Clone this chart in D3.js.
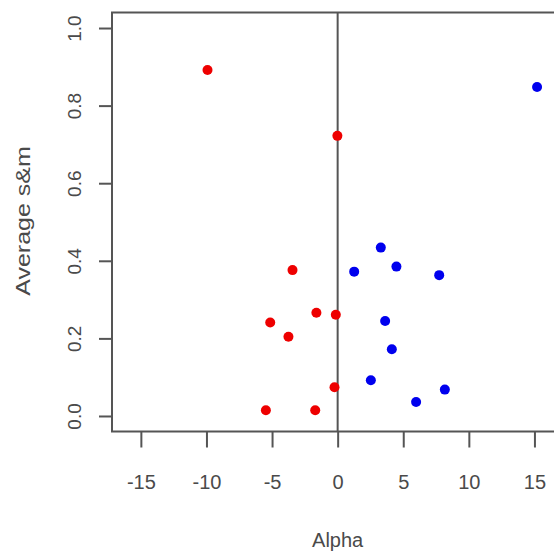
<!DOCTYPE html>
<html>
<head>
<meta charset="utf-8">
<script src="https://cdnjs.cloudflare.com/ajax/libs/d3/7.8.5/d3.min.js"></script>
<style>
  body { margin: 0; background: #fff; }
  svg text { font-family: "Liberation Sans", Arial, sans-serif; fill: #4a4a4a; }
</style>
</head>
<body>
<div id="chart"></div>
<script>
// values
var redAlpha = [-9.92, -0.02, -3.44, -1.62, -0.14, -5.14, -3.75, -0.24, -5.47, -1.71];
var redSM    = [0.892, 0.722, 0.376, 0.266, 0.261, 0.241, 0.204, 0.074, 0.015, 0.015];
var blueAlpha = [15.2, 3.29, 1.26, 4.48, 7.74, 3.62, 4.13, 2.53, 8.17, 5.98];
var blueSM    = [0.848, 0.434, 0.372, 0.385, 0.363, 0.245, 0.172, 0.092, 0.068, 0.036];
var xTicks = [-15, -10, -5, 0, 5, 10, 15];
var yTicks = [0, 0.2, 0.4, 0.6, 0.8, 1.0];

var width = 554, height = 555;

var svg = d3.select('#chart')
  .append('svg')
  .attr('width', width)
  .attr('height', height);

var x = d3.scaleLinear().domain([-17.2, 17.2]).range([112, 563.3]);
var y = d3.scaleLinear().domain([-0.04, 1.04]).range([431.5, 12.5]);

// vertical line at alpha = 0
svg.append('line')
  .attr('x1', x(0)).attr('x2', x(0))
  .attr('y1', y.range()[1]).attr('y2', y.range()[0])
  .attr('stroke', '#555')
  .attr('stroke-width', 2);

// frame
svg.append('rect')
  .attr('x', x.range()[0])
  .attr('y', y.range()[1])
  .attr('width', x.range()[1] - x.range()[0])
  .attr('height', y.range()[0] - y.range()[1])
  .attr('fill', 'none')
  .attr('stroke', '#555')
  .attr('stroke-width', 2);

// x axis
var xAxis = svg.append('g')
  .attr('transform', 'translate(0,' + y.range()[0] + ')')
  .call(d3.axisBottom(x).tickValues(xTicks).tickSize(16).tickFormat(d3.format('d')));
xAxis.select('.domain').remove();
xAxis.selectAll('.tick line').attr('stroke', '#555').attr('stroke-width', 2);
xAxis.selectAll('.tick text')
  .attr('y', 57).attr('dy', 0)
  .style('font-size', '20px')
  .text(function (d) { return d < 0 ? '-' + Math.abs(d) : d; });

// y axis
var yAxis = svg.append('g')
  .attr('transform', 'translate(' + x.range()[0] + ',0)')
  .call(d3.axisLeft(y).tickValues(yTicks).tickSize(13).tickFormat(d3.format('.1f')));
yAxis.select('.domain').remove();
yAxis.selectAll('.tick line').attr('stroke', '#555').attr('stroke-width', 2);
yAxis.selectAll('.tick text')
  .attr('x', 0).attr('dy', 0)
  .attr('text-anchor', 'middle')
  .attr('transform', 'translate(-31,0) rotate(-90)')
  .style('font-size', '19px');

// axis titles
svg.append('text')
  .attr('x', x(0)).attr('y', 547)
  .attr('text-anchor', 'middle')
  .style('font-size', '20px')
  .text('Alpha');

// the reference title is drawn long along its baseline
svg.append('text')
  .attr('transform', 'translate(30,221) rotate(-90) scale(1.25,1)')
  .attr('text-anchor', 'middle')
  .style('font-size', '20px')
  .text('Average s&m');

// points
var redPts = redAlpha.map(function (a, i) { return { a: a, s: redSM[i] }; });
var bluePts = blueAlpha.map(function (a, i) { return { a: a, s: blueSM[i] }; });

svg.append('g').selectAll('circle')
  .data(redPts)
  .enter()
  .append('circle')
  .attr('cx', function (d) { return x(d.a); })
  .attr('cy', function (d) { return y(d.s); })
  .attr('r', 5)
  .attr('fill', '#ee0000');

svg.append('g').selectAll('circle')
  .data(bluePts)
  .enter()
  .append('circle')
  .attr('cx', function (d) { return x(d.a); })
  .attr('cy', function (d) { return y(d.s); })
  .attr('r', 5)
  .attr('fill', '#0000ee');
</script>
</body>
</html>
